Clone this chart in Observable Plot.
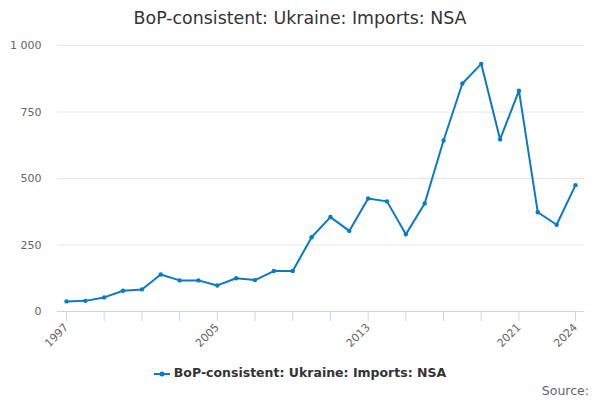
<!DOCTYPE html>
<html><head><meta charset="utf-8">
<script src="https://cdn.jsdelivr.net/npm/d3@7"></script>
<script src="https://cdn.jsdelivr.net/npm/@observablehq/plot@0.6"></script>
<style>
body{margin:0;width:600px;height:400px;background:#fff;font-family:"DejaVu Sans",sans-serif;position:relative;overflow:hidden}
#title{position:absolute;top:7px;left:0;width:600px;text-align:center;font-size:17.4px;color:#333;line-height:22px}
#chart{position:absolute;top:36px;left:0}
#legend{position:absolute;top:365px;left:0;width:600px;text-align:center;font-size:12.5px;font-weight:bold;color:#333;line-height:16px}
#legend svg{vertical-align:-2px;margin-right:4px}
#source{position:absolute;top:383px;right:11px;font-size:12.5px;color:#666}
</style></head><body>
<div id="title">BoP-consistent: Ukraine: Imports: NSA</div>
<div id="chart"></div>
<div id="legend"><svg width="16" height="10"><line x1="0" y1="5" x2="16" y2="5" stroke="#0a7bc2" stroke-width="2"/><circle cx="8" cy="5" r="2.5" fill="#0a7bc2"/></svg>BoP-consistent: Ukraine: Imports: NSA</div>
<div id="source">Source:</div>
<script>
const seriesName = "BoP-consistent: Ukraine: Imports: NSA";
const years = [1997,1998,1999,2000,2001,2002,2003,2004,2005,2006,2007,2008,2009,2010,2011,2012,2013,2014,2015,2016,2017,2018,2019,2020,2021,2022,2023,2024];
const values = [38,40,53,78,83,139,117,117,98,125,118,152,152,279,355,303,425,414,290,406,643,857,931,647,830,373,326,475];
const yTicks = [0,250,500,750,1000];
const xTicks = [1997,1999,2001,2003,2005,2007,2009,2011,2013,2015,2017,2019,2021,2024];
const xLabels = [1997,2005,2013,2021,2024];

const data = years.map((y,i)=>({year:y, value:values[i]}));
const color = "#0a7bc2";

const chart = Plot.plot({
  width: 600,
  height: 320,
  marginTop: 9,
  marginBottom: 45,
  marginLeft: 57,
  marginRight: 16,
  insetLeft: 9,
  insetRight: 9,
  style: {fontFamily: "DejaVu Sans, sans-serif", fontSize: "11px", background: "#fff"},
  x: {type: "linear", domain: [1997, 2024]},
  y: {domain: [0, 1000]},
  marks: [
    Plot.gridY(yTicks, {stroke: "#e6e6e6", strokeOpacity: 1}),
    Plot.axisY(yTicks, {tickSize: 0, tickPadding: 16, fill: "#666", label: null,
      tickFormat: d => d3.format(",")(d).replace(/,/g, " ")}),
    Plot.ruleY([0], {stroke: "#ccd6eb"}),
    Plot.axisX(xTicks, {tickSize: 10, stroke: "#ccd6eb", strokeOpacity: 1, fill: "#666", tickRotate: -45, tickPadding: 4, label: null,
      tickFormat: d => xLabels.includes(d) ? String(d) : ""}),
    Plot.line(data, {x: "year", y: "value", stroke: color, strokeWidth: 2}),
    Plot.dot(data, {x: "year", y: "value", r: 2.2, fill: color})
  ]
});
document.getElementById("chart").appendChild(chart);
</script>
</body></html>
